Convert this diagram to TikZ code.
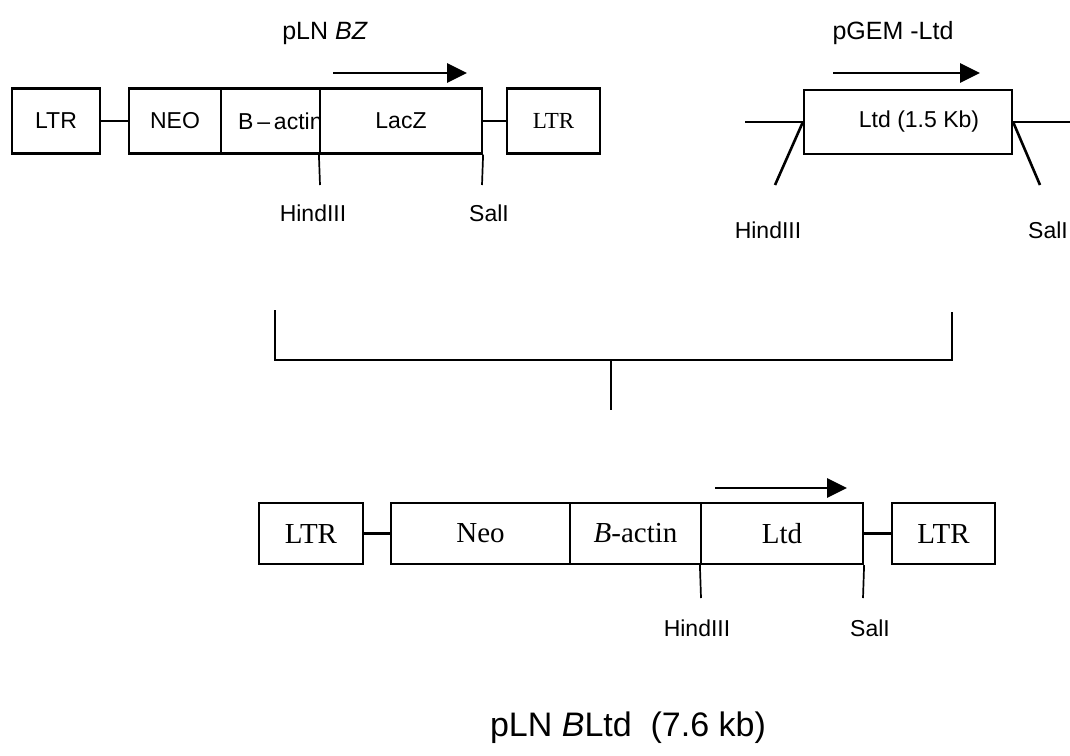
\documentclass[tikz,border=0pt]{standalone}
\usepackage{fontspec}
\setmainfont{Liberation Serif}
\setsansfont{Liberation Sans}
\usepackage{tikz}
\usetikzlibrary{arrows.meta}

\newcommand{\sanslab}{\sffamily\fontsize{23}{26}\selectfont}
\newcommand{\serlab}{\rmfamily\fontsize{23}{26}\selectfont}
\newcommand{\bigserlab}{\rmfamily\fontsize{29}{32}\selectfont}
\newcommand{\ttlfont}{\sffamily\fontsize{25}{28}\selectfont}
\newcommand{\bigttlfont}{\sffamily\fontsize{34}{38}\selectfont}

\begin{document}
\begin{tikzpicture}[x=1pt,y=-1pt,
    box/.style={draw, line width=2.2pt, inner sep=0pt, minimum height=65pt, font=\sanslab},
    lowbox/.style={box, minimum height=61pt, font=\bigserlab},
    link/.style={line width=2.4pt},
    site/.style={line width=1.7pt},
    cutline/.style={line width=2.6pt},
    bracketline/.style={line width=2.6pt},
    dirarrow/.style={line width=2.8pt, -{Triangle[length=20pt,width=19pt]}},
    sitelabel/.style={font=\sanslab}]
  \useasboundingbox (0,0) rectangle (1070,755);

  % pLN BZ
  \node[font=\ttlfont] (ttlA) at (325,33) {pLN \textit{BZ}};
  \node[box, minimum width=88pt] (ltrA) at (56,121) {LTR};
  \node[box, minimum width=92pt] (neoA) at (175,121) {NEO};
  \node[box, minimum width=99pt] (actA) at (270.5,121) {};
  \node[anchor=west, font=\sanslab, inner sep=0pt] (actAlab) at (238,121) {B\,–\,actin};
  \node[box, minimum width=162pt, fill=white] (laczA) at (401,121) {LacZ};
  \node[box, minimum width=93pt, font=\serlab] (ltrB) at (553.5,121) {LTR};
  \draw[link] (ltrA) -- (neoA);
  \draw[link] (laczA) -- (ltrB);
  \coordinate (arA1) at (333,73);
  \coordinate (arA2) at (467,73);
  \draw[dirarrow] (arA1) -- (arA2);
  \coordinate (hindAend) at (320,185);
  \coordinate (salAend) at (482,185);
  \draw[site] (laczA.south west) -- (hindAend);
  \draw[site] (laczA.south east) -- (salAend);
  \node[sitelabel] (hindA) at (313,213) {HindIII};
  \node[sitelabel] (salA) at (489,213) {SalI};

  % pGEM-Ltd
  \node[font=\ttlfont] (ttlB) at (893,33) {pGEM -Ltd};
  \node[box, minimum width=208pt, minimum height=64pt] (ltdA) at (908,122) {\hspace{22pt}Ltd (1.5 Kb)};
  \coordinate (pgemL) at (745,122);
  \coordinate (pgemR) at (1072,122);
  \draw[link] (pgemL) -- (ltdA.west);
  \draw[link] (ltdA.east) -- (pgemR);
  \coordinate (arB1) at (833,73);
  \coordinate (arB2) at (980,73);
  \draw[dirarrow] (arB1) -- (arB2);
  \coordinate (cutL) at (775,185);
  \coordinate (cutR) at (1040,185);
  \draw[cutline] (ltdA.west) -- (cutL);
  \draw[cutline] (ltdA.east) -- (cutR);
  \node[sitelabel] (hindB) at (768,230) {HindIII};
  \node[sitelabel] (salB) at (1048,230) {SalI};

  % ligation
  \coordinate (brL) at (275,310);
  \coordinate (brR) at (952,312);
  \coordinate (brBase) at (611,360);
  \coordinate (brM) at (611,410);
  \draw[bracketline] (brL) |- (brBase) -| (brR);
  \draw[bracketline] (brBase) -- (brM);

  % pLN BLtd
  \node[lowbox, minimum width=104pt] (ltrC) at (311,533.5) {LTR};
  \node[lowbox, minimum width=179pt] (neoB) at (480.5,533.5) {Neo};
  \node[lowbox, minimum width=131pt] (actB) at (635.5,533.5) {\textit{B}-actin};
  \node[lowbox, minimum width=162pt] (ltdB) at (782,533.5) {Ltd};
  \node[lowbox, minimum width=103pt] (ltrD) at (943.5,533.5) {LTR};
  \draw[link] (ltrC) -- (neoB);
  \draw[link] (ltdB) -- (ltrD);
  \coordinate (arC1) at (715,488);
  \coordinate (arC2) at (847,488);
  \draw[dirarrow] (arC1) -- (arC2);
  \coordinate (hindCend) at (701,598);
  \coordinate (salCend) at (863,598);
  \draw[site] (ltdB.south west) -- (hindCend);
  \draw[site] (ltdB.south east) -- (salCend);
  \node[sitelabel] (hindC) at (697,628) {HindIII};
  \node[sitelabel] (salC) at (870,628) {SalI};
  \node[font=\bigttlfont] (ttlC) at (628,728) {pLN \textit{B}Ltd\ \ (7.6 kb)};
\end{tikzpicture}
\end{document}
